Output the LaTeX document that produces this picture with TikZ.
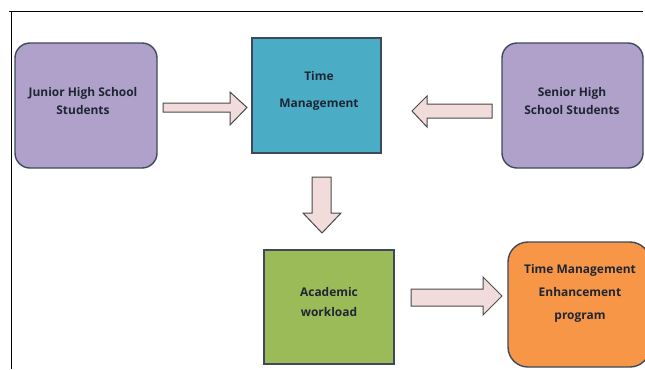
\documentclass[tikz,border=0pt]{standalone}
\usepackage{fontspec}
\setmainfont{Open Sans}
\begin{document}
\begin{tikzpicture}[x=1bp,y=-1bp,
  box/.style={draw=boxline,line width=1.4bp,inner sep=0pt},
  purplebox/.style={box,fill=purplefill,rounded corners=15bp},
  lbl/.style={font=\bfseries\fontsize{12}{18}\selectfont,text=txt,align=center,inner sep=0pt},
  barrow/.style={draw=arrline,fill=arrfill,line width=1bp,line join=miter}]
\definecolor{boxline}{HTML}{3E4A5C}
\definecolor{purplefill}{HTML}{B0A1CB}
\definecolor{tealfill}{HTML}{4BACC6}
\definecolor{greenfill}{HTML}{9BBB59}
\definecolor{orangefill}{HTML}{F79646}
\definecolor{arrfill}{HTML}{F2DCDB}
\definecolor{arrline}{HTML}{4A4A4A}
\definecolor{txt}{HTML}{1E2533}
\useasboundingbox (0,0) rectangle (645,369);
\begin{scope}
\clip (0,0) rectangle (645,369);
% frame
\draw[line width=1.5bp] (9,11.5) -- (643,11.5);
\draw[line width=1.5bp] (11.5,11) -- (11.5,369);
% boxes
\node[purplebox,minimum width=142bp,minimum height=125bp] (jr) at (86,105.5) {};
\node[box,fill=tealfill,minimum width=129bp,minimum height=115bp] (tm) at (316.5,95.5) {};
\node[purplebox,minimum width=141bp,minimum height=125bp] (sr) at (572.5,105.5) {};
\node[box,fill=greenfill,minimum width=130bp,minimum height=114bp] (aw) at (329,307) {};
\node[box,fill=orangefill,rounded corners=20bp,minimum width=142bp,minimum height=125bp] (te) at (579,304.5) {};
% labels
\node[lbl] (jrt) at (83,101) {Junior High School\\Students};
\node[lbl,font=\bfseries\fontsize{12}{27}\selectfont] (tmt) at (319,90.5) {Time\\Management};
\node[lbl] (srt) at (572,101) {Senior High\\School Students};
\node[lbl,font=\bfseries\fontsize{12}{20}\selectfont] (awt) at (329,302) {Academic\\workload};
\node[lbl,font=\bfseries\fontsize{12}{23}\selectfont] (tet) at (580,293.5) {Time Management\\Enhancement\\program};
% block arrows
\draw[barrow] (163,103) -- (230,103) -- (230,92) -- (247,107.5) -- (230,125) -- (230,112) -- (163,112) -- cycle;
\draw[barrow] (492,104) -- (427,104) -- (427,96) -- (412,111) -- (427,127) -- (427,118) -- (492,118) -- cycle;
\draw[barrow] (312,177) -- (312,213) -- (303,213) -- (322,233) -- (341,213) -- (331,213) -- (331,177) -- cycle;
\draw[barrow] (411,289) -- (483,289) -- (483,277) -- (502,296) -- (483,315) -- (483,306) -- (411,306) -- cycle;
\end{scope}
\end{tikzpicture}
\end{document}
